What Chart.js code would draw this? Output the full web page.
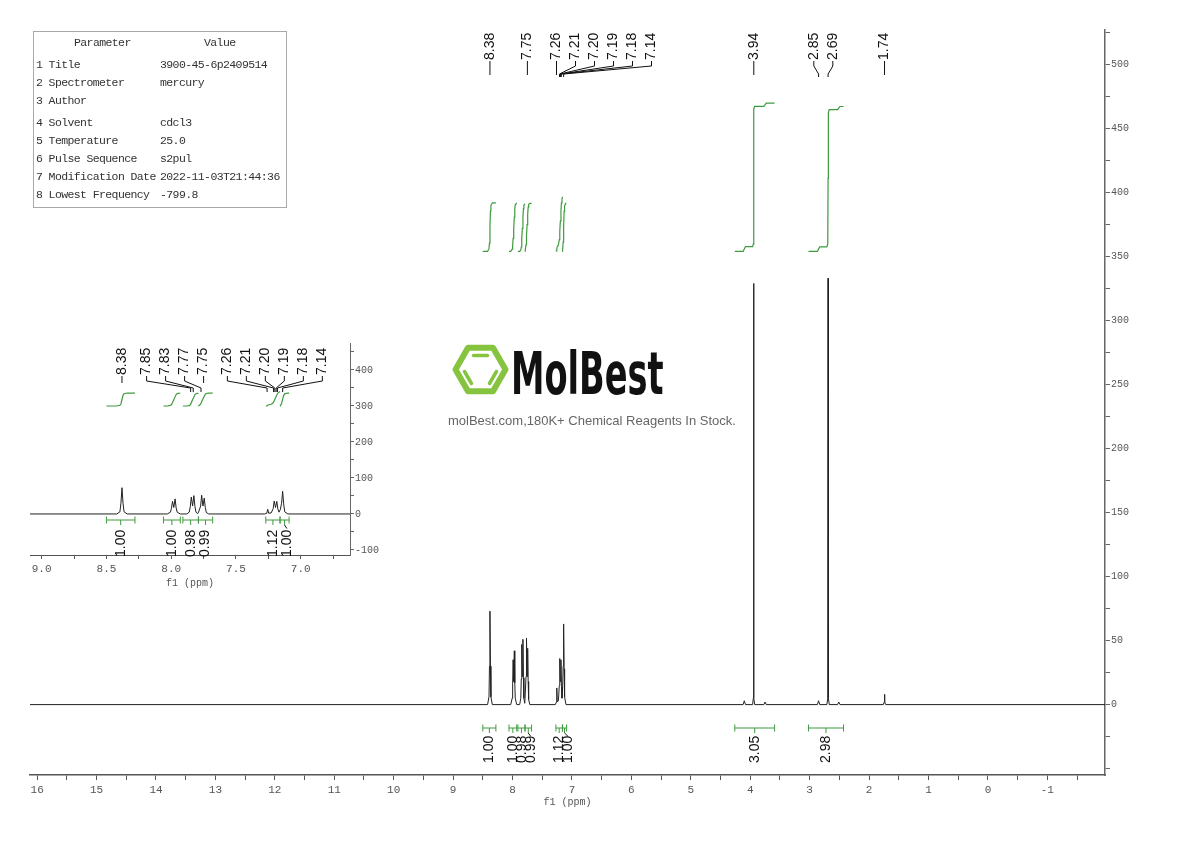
<!DOCTYPE html>
<html>
<head>
<meta charset="utf-8">
<script src="https://cdn.jsdelivr.net/npm/chart.js@4.4.1/dist/chart.umd.min.js"></script>
<style>
  html, body { margin: 0; padding: 0; background: #fff; }
  #wrap { position: relative; width: 1190px; height: 841px; overflow: hidden; }
  #wrap canvas { position: absolute; left: 0; top: 0; }
  .params { position: absolute; left: 33px; top: 31px; width: 252px; height: 175px; border: 1px solid #a8a8a8;
            font: 11.5px "Liberation Mono", "DejaVu Sans Mono", monospace; letter-spacing: -0.6px; color: #333; }
  .params div { position: absolute; white-space: pre; line-height: 14px; }
  .logo-name { position: absolute; left: 511px; top: 345px; font: bold 58px "DejaVu Sans", sans-serif; line-height: 58px;
               color: #111; transform: scaleX(0.58); transform-origin: 0 0; white-space: nowrap; }
  .logo-sub { position: absolute; left: 448px; top: 413px; font: 13px "Liberation Sans", Arial, sans-serif; color: #666; white-space: nowrap; }
</style>
</head>
<body>
<div id="wrap">
  <canvas id="mainChart" width="1190" height="841"></canvas>
  <canvas id="insetChart" width="1190" height="841"></canvas>
  <div class="params" id="params"></div>
  <svg style="position:absolute;left:449px;top:340px" width="64" height="60" viewBox="0 0 64 60">
    <g transform="translate(31.5,29.5)" fill="none" stroke="#86c440" stroke-linecap="round" stroke-linejoin="round">
      <polygon points="25,0 12.5,21.65 -12.5,21.65 -25,0 -12.5,-21.65 12.5,-21.65" stroke-width="6"/>
      <line x1="-7" y1="-14" x2="7" y2="-14" stroke-width="3.5"/>
      <line x1="-16" y1="2" x2="-9" y2="14" stroke-width="3.5"/>
      <line x1="16" y1="2" x2="9" y2="14" stroke-width="3.5"/>
    </g>
  </svg>
  <div class="logo-name">MolBest</div>
  <div class="logo-sub">molBest.com,180K+ Chemical Reagents In Stock.</div>
</div>
<script>
// spectrum trace (ppm, intensity)
const specPpm = [16.2, 8.42, 8.396, 8.388, 8.38, 8.372, 8.364, 8.34,
  8.03, 8.006, 7.998, 7.99, 7.98, 7.97, 7.962, 7.954, 7.93,
  7.88, 7.861, 7.853, 7.845, 7.835, 7.825, 7.817, 7.809, 7.795,
  7.789, 7.773, 7.765, 7.755, 7.745, 7.737, 7.729, 7.71,
  7.28, 7.262, 7.255, 7.248, 7.228, 7.213, 7.205, 7.195, 7.185, 7.177, 7.168,
  7.158, 7.148, 7.14, 7.132, 7.124, 7.10,
  4.12, 4.10, 4.08, 3.96, 3.948, 3.943, 3.938, 3.925, 3.77, 3.75, 3.73,
  2.87, 2.85, 2.83, 2.71, 2.695, 2.69, 2.685, 2.67, 2.53, 2.51, 2.49,
  1.76, 1.745, 1.74, 1.735, 1.72, -2.1];
const specInt = [0, 0, 6, 30, 73, 30, 6, 0,
  0, 5, 16, 35, 18, 42, 17, 5, 0,
  0, 5, 20, 47, 22, 51, 21, 5, 1,
  5, 22, 52, 22, 44, 18, 4, 0,
  0, 2, 13, 2, 3, 15, 36, 18, 35, 14, 5,
  12, 30, 63, 28, 6, 0,
  0, 3, 0, 0, 5, 329, 5, 0, 0, 2, 0,
  0, 3, 0, 0, 5, 333, 5, 0, 0, 2, 0,
  0, 2, 8, 2, 0, 0];

// integration regions
const intFrom = [8.50, 8.06, 7.91, 7.79, 7.27, 7.16, 4.26, 3.02];
const intTo = [8.28, 7.93, 7.79, 7.68, 7.16, 7.09, 3.59, 2.43];
const intValue = [1.00, 1.00, 0.98, 0.99, 1.12, 1.00, 3.05, 2.98];

// peak picking labels
const mainLabelPpm = [8.38, 7.75, 7.26, 7.21, 7.20, 7.19, 7.18, 7.14, 3.94, 2.85, 2.69, 1.74];
const mainLabelGroup = [0, 1, 2, 2, 2, 2, 2, 2, 3, 4, 4, 5];
const insetLabelPpm = [8.38, 7.85, 7.83, 7.77, 7.75, 7.26, 7.21, 7.20, 7.19, 7.18, 7.14];
const insetLabelGroup = [0, 1, 1, 1, 1, 2, 2, 2, 2, 2, 2];

// parameter table
const paramNames = ["1 Title", "2 Spectrometer", "3 Author", "4 Solvent", "5 Temperature",
  "6 Pulse Sequence", "7 Modification Date", "8 Lowest Frequency"];
const paramValues = ["3900-45-6p2409514", "mercury", "", "cdcl3", "25.0", "s2pul",
  "2022-11-03T21:44:36", "-799.8"];

// build the parameter box
(function () {
  const box = document.getElementById("params");
  const tops = [26, 44, 62, 84, 102, 120, 138, 156];
  let html = '<div style="left:40px;top:4px">Parameter</div><div style="left:170px;top:4px">Value</div>';
  paramNames.forEach((n, i) => {
    html += `<div style="left:2px;top:${tops[i]}px">${n}</div>`;
    html += `<div style="left:126px;top:${tops[i]}px">${paramValues[i]}</div>`;
  });
  box.innerHTML = html;
})();

Chart.defaults.font.family = '"Liberation Mono", "DejaVu Sans Mono", monospace';

const specData = specPpm.map((p, i) => ({ x: p, y: specInt[i] }));

function specAt(ppm) {
  for (let i = 1; i < specPpm.length; i++) {
    if (specPpm[i] <= ppm) {
      const p0 = specPpm[i - 1], p1 = specPpm[i];
      const t = (p0 - ppm) / (p0 - p1);
      return specInt[i - 1] + t * (specInt[i] - specInt[i - 1]);
    }
  }
  return 0;
}

// running integral of the trace over one region, scaled to its value
function integralCurve(i, base, perH) {
  const from = intFrom[i], to = intTo[i];
  const pts = [[from, specAt(from)]];
  specPpm.forEach((p, k) => { if (p < from && p > to) pts.push([p, specInt[k]]); });
  pts.push([to, specAt(to)]);
  const cum = [0];
  for (let k = 1; k < pts.length; k++) {
    cum.push(cum[k - 1] + (pts[k - 1][0] - pts[k][0]) * (pts[k - 1][1] + pts[k][1]) / 2);
  }
  const total = cum[cum.length - 1] || 1;
  return pts.map((p, k) => ({ x: p[0], y: base + cum[k] / total * intValue[i] * perH }));
}

function buildDatasets(base, perH) {
  const ds = [{ data: specData, borderColor: "#222", borderWidth: 1, pointRadius: 0, tension: 0 }];
  intValue.forEach((v, i) => {
    ds.push({ data: integralCurve(i, base, perH), borderColor: "#3f9a3f", borderWidth: 1.2, pointRadius: 0, tension: 0 });
  });
  return ds;
}

function spread(pix, mode, gap) {
  const n = pix.length, out = new Array(n);
  if (mode === "left") {
    out[n - 1] = pix[n - 1];
    for (let i = n - 2; i >= 0; i--) out[i] = Math.min(pix[i], out[i + 1] - gap);
  } else if (mode === "center") {
    const c = (pix[0] + pix[n - 1]) / 2;
    for (let i = 0; i < n; i++) out[i] = c + (i - (n - 1) / 2) * gap;
  } else {
    out[0] = pix[0];
    for (let i = 1; i < n; i++) out[i] = Math.max(pix[i], out[i - 1] + gap);
  }
  return out;
}

function vText(ctx, txt, x, y) {
  ctx.save();
  ctx.translate(x, y);
  ctx.rotate(-Math.PI / 2);
  ctx.textAlign = "left";
  ctx.textBaseline = "middle";
  ctx.fillText(txt, 0, 0);
  ctx.restore();
}

function annotationPlugin(cfg) {
  return {
    id: "anno_" + cfg.name,
    afterDraw(chart) {
      const ctx = chart.ctx, xs = chart.scales.x;
      ctx.save();
      ctx.font = '14px "Liberation Sans", Arial, sans-serif';
      ctx.fillStyle = "#111";
      ctx.strokeStyle = "#111";
      ctx.lineWidth = 1;

      // peak labels
      const g = cfg.peaks;
      [...new Set(g.groups)].forEach(grp => {
        const idx = g.ppm.map((p, i) => i).filter(i => g.groups[i] === grp);
        const pix = idx.map(i => xs.getPixelForValue(g.ppm[i]));
        const pos = spread(pix, g.modes[grp], g.gap);
        idx.forEach((i, k) => {
          const lx = pos[k], px = pix[k];
          vText(ctx, g.ppm[i].toFixed(2), lx, g.textBottom);
          ctx.beginPath();
          if (Math.abs(lx - px) < 1.5) {
            ctx.moveTo(lx, g.top); ctx.lineTo(lx, g.straightEnd);
          } else {
            ctx.moveTo(lx, g.top); ctx.lineTo(lx, g.bend1);
            ctx.lineTo(px, g.bend2); ctx.lineTo(px, g.end);
          }
          ctx.stroke();
        });
      });

      // integral brackets and values
      const it = cfg.ints;
      const idx = intFrom.map((f, i) => i).filter(i => intTo[i] >= xs.min && intFrom[i] <= xs.max);
      const centers = idx.map(i => xs.getPixelForValue((intFrom[i] + intTo[i]) / 2));
      const lpos = spread(centers, "right", it.gap);
      idx.forEach((i, k) => {
        const x1 = xs.getPixelForValue(intFrom[i]), x2 = xs.getPixelForValue(intTo[i]);
        const cx = centers[k], y = it.bracketY;
        ctx.strokeStyle = "#3f9a3f";
        ctx.beginPath();
        ctx.moveTo(x1, y); ctx.lineTo(x2, y);
        ctx.moveTo(x1, y - 3.5); ctx.lineTo(x1, y + 3.5);
        ctx.moveTo(x2, y - 3.5); ctx.lineTo(x2, y + 3.5);
        ctx.moveTo(cx, y); ctx.lineTo(cx, y + 5);
        ctx.stroke();
        ctx.strokeStyle = "#111";
        if (Math.abs(lpos[k] - cx) > 1.5) {
          ctx.beginPath();
          ctx.moveTo(cx, y + 5); ctx.lineTo(lpos[k], y + 8.5);
          ctx.stroke();
        }
        vText(ctx, intValue[i].toFixed(2), lpos[k], it.textBottom);
      });

      // axis title
      ctx.font = '10px "Liberation Mono", monospace';
      ctx.fillStyle = "#555";
      ctx.textAlign = "center";
      ctx.textBaseline = "middle";
      ctx.fillText("f1 (ppm)", (chart.chartArea.left + chart.chartArea.right) / 2, cfg.titleY);
      ctx.restore();
    }
  };
}

function axisOptions(o) {
  return {
    x: {
      type: "linear", reverse: true, min: o.xMin, max: o.xMax,
      afterFit: s => { s.height = 30; },
      border: { display: true, color: "#555", width: o.axisWidth },
      grid: { drawOnChartArea: false, drawTicks: true, tickLength: o.tickLen, color: "#555" },
      ticks: { stepSize: o.xStep, includeBounds: false, autoSkip: false, maxRotation: 0, padding: 3,
               color: "#555", font: { size: 11 }, callback: o.xLabel }
    },
    y: {
      type: "linear", position: "right", min: o.yMin, max: o.yMax,
      afterFit: s => { s.width = o.yWidth; },
      border: { display: true, color: "#666", width: o.axisWidth },
      grid: { drawOnChartArea: false, drawTicks: true, tickLength: o.tickLen, color: "#666" },
      ticks: { stepSize: o.yStep, includeBounds: false, autoSkip: false, padding: 1,
               color: "#555", font: { size: 10 }, callback: o.yLabel }
    }
  };
}

const baseOptions = {
  responsive: false, animation: false, devicePixelRatio: 1,
  plugins: { legend: { display: false }, tooltip: { enabled: false } },
  elements: { point: { radius: 0 }, line: { tension: 0 } }
};

new Chart(document.getElementById("mainChart"), {
  type: "line",
  data: { datasets: buildDatasets(354, 38) },
  options: Object.assign({}, baseOptions, {
    layout: { padding: { left: 30, top: 30, right: 40, bottom: 36 } },
    scales: axisOptions({
      xMin: -1.97, xMax: 16.12, xStep: 0.5, yMin: -55, yMax: 527, yStep: 25, yWidth: 45,
      tickLen: 5, axisWidth: 1.5,
      xLabel: v => Number.isInteger(v) ? String(v) : "",
      yLabel: v => (v >= 0 && v % 50 === 0) ? String(v) : ""
    })
  }),
  plugins: [annotationPlugin({
    name: "main", titleY: 802,
    peaks: { ppm: mainLabelPpm, groups: mainLabelGroup,
             modes: ["right", "right", "right", "right", "center", "right"], gap: 19,
             textBottom: 60, top: 61, straightEnd: 75, bend1: 66, bend2: 74, end: 77 },
    ints: { bracketY: 728, textBottom: 763, gap: 9 }
  })]
});

new Chart(document.getElementById("insetChart"), {
  type: "line",
  data: { datasets: buildDatasets(300, 36) },
  options: Object.assign({}, baseOptions, {
    layout: { padding: { left: 30, top: 343, right: 800, bottom: 256 } },
    scales: axisOptions({
      xMin: 6.62, xMax: 9.09, xStep: 0.25, yMin: -114, yMax: 475, yStep: 50, yWidth: 40,
      tickLen: 4, axisWidth: 1,
      xLabel: v => Math.abs(v * 2 - Math.round(v * 2)) < 1e-6 ? v.toFixed(1) : "",
      yLabel: v => v % 100 === 0 ? String(v) : ""
    })
  }),
  plugins: [annotationPlugin({
    name: "inset", titleY: 583,
    peaks: { ppm: insetLabelPpm, groups: insetLabelGroup,
             modes: ["right", "left", "center"], gap: 19,
             textBottom: 375, top: 376, straightEnd: 383, bend1: 381, bend2: 388, end: 392 },
    ints: { bracketY: 520, textBottom: 557, gap: 14 }
  })]
});
</script>
</body>
</html>
